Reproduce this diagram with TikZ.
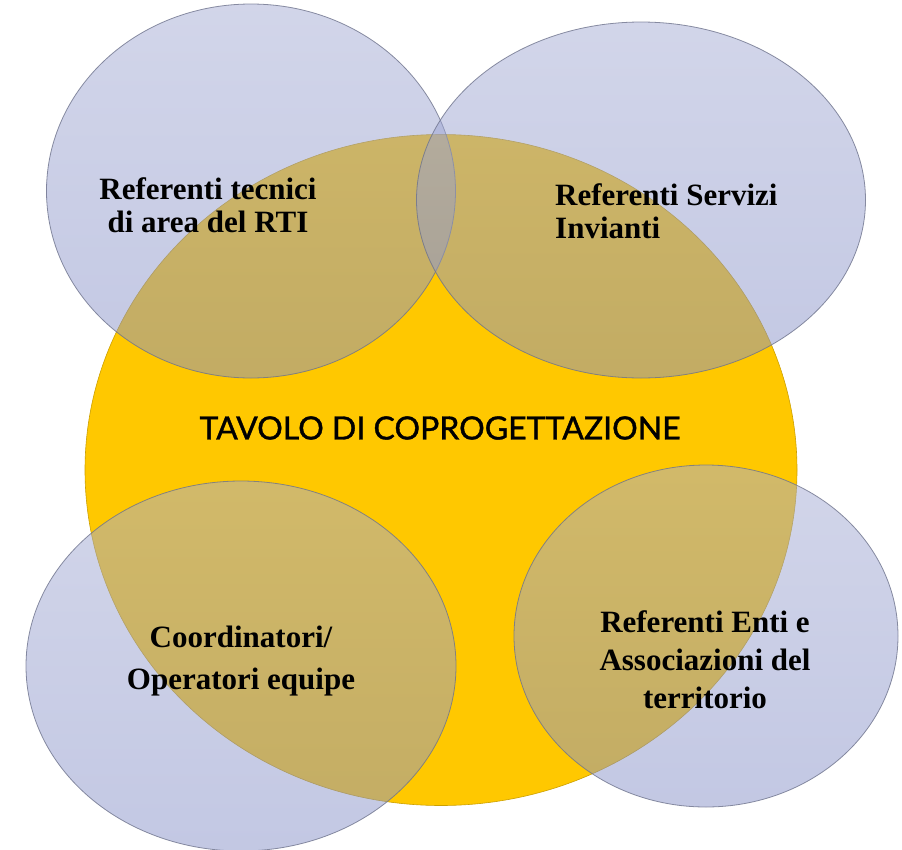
\documentclass[tikz,border=0pt]{standalone}
\usepackage{fontspec}
\setmainfont{Liberation Serif}
\newfontfamily\centerfont[FakeBold=1.2]{Lato}
\usetikzlibrary{shapes.geometric}
\definecolor{gold}{RGB}{255,200,0}
\definecolor{bluetop}{RGB}{165,172,212}
\definecolor{bluebot}{RGB}{135,145,200}
\definecolor{rim}{RGB}{110,115,140}
\tikzset{
  bubble/.style={ellipse, inner sep=0pt, draw=rim, line width=0.8pt, draw opacity=0.8,
    top color=bluetop, bottom color=bluebot, fill opacity=0.5},
  lbl/.style={font=\bfseries\fontsize{31}{33}\selectfont, text=black, inner sep=0pt},
}
\begin{document}
\begin{tikzpicture}[x=1pt,y=-1pt]
\useasboundingbox (0,0) rectangle (902,849);
\node[ellipse, inner sep=0pt, fill=gold, draw=gold!80!black, line width=0.6pt,
  minimum width=712pt, minimum height=671pt] (core) at (441,470) {};
\node[bubble, minimum width=409pt, minimum height=374pt] (tl) at (251,191) {};
\node[bubble, minimum width=449pt, minimum height=356pt] (tr) at (641,200) {};
\node[bubble, minimum width=430pt, minimum height=370pt] (bl) at (241,666) {};
\node[bubble, minimum width=384pt, minimum height=342pt] (br) at (706,636) {};
\node[font=\centerfont\fontsize{32}{38}\selectfont, inner sep=0pt] (title) at (440,428) {TAVOLO DI COPROGETTAZIONE};
\node[lbl, align=center] (tltext) at (208,205) {Referenti tecnici\\di area del RTI};
\node[lbl, align=left, anchor=west] (trtext) at (555,211) {Referenti Servizi\\Invianti};
\node[lbl, align=center, font=\bfseries\fontsize{31}{42}\selectfont] (bltext) at (241,661) {Coordinatori/\\Operatori equipe};
\node[lbl, align=center, font=\bfseries\fontsize{31}{38}\selectfont] (brtext) at (705,660) {Referenti Enti e\\Associazioni del\\territorio};
\end{tikzpicture}
\end{document}
